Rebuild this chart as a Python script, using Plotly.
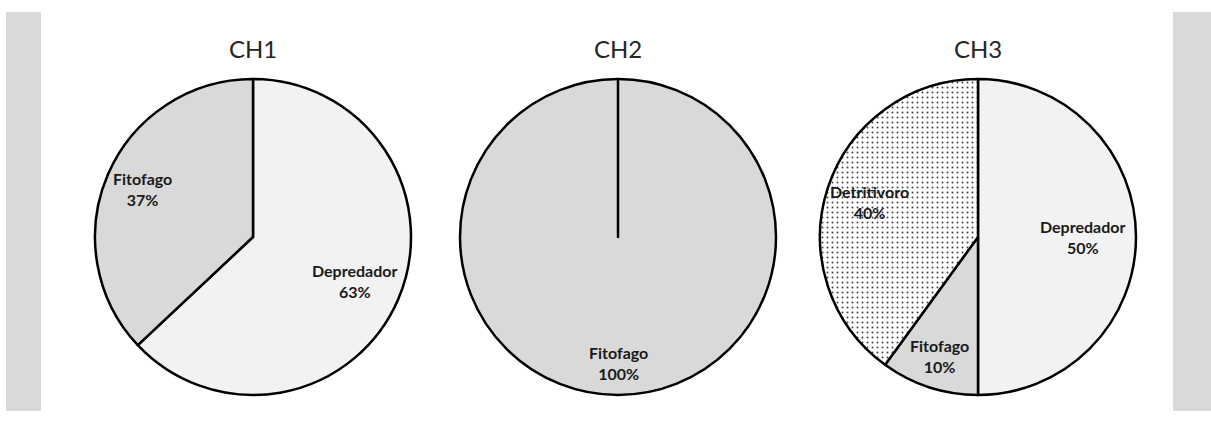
import math
import plotly.graph_objects as go

# Data
titles = ["CH1", "CH2", "CH3"]
ch1_labels = ["Depredador", "Fitofago"]
ch1_values = [63, 37]
ch2_labels = ["Fitofago", "Depredador"]
ch2_values = [100, 0]
ch3_labels = ["Depredador", "Fitofago", "Detritivoro"]
ch3_values = [50, 10, 40]

colors = {"Depredador": "#f2f2f2", "Fitofago": "#d9d9d9", "Detritivoro": "#ffffff"}

# Layout constants (pixels)
W, H = 1211, 423
centers_x = [253, 618, 978]
cy = 237
R = 158
title_y = 48
# radial position of each slice label (fraction of radius)
label_r = [[0.70, 0.76], [0.80, 0.0], [0.66, 0.79, 0.72]]

fig = go.Figure()
annotations = []


def dom(cx):
    return dict(x=[(cx - R) / W, (cx + R) / W], y=[(H - cy - R) / H, (H - cy + R) / H])


def add_pie(labels, values, title, cx, fracs):
    shapes = ["." if l == "Detritivoro" else "" for l in labels]
    fig.add_trace(go.Pie(
        labels=labels, values=values, sort=False, direction="clockwise", rotation=0,
        domain=dom(cx),
        marker=dict(colors=[colors[l] for l in labels],
                    line=dict(color="#000000", width=2.5),
                    pattern=dict(shape=shapes, fgcolor="#444444", bgcolor="#ffffff",
                                 size=5, solidity=0.12)),
        textinfo="none",
        showlegend=False, hoverinfo="label+percent",
    ))
    annotations.append(dict(
        text=title, xref="paper", yref="paper", x=cx / W, y=(H - title_y) / H,
        xanchor="center", yanchor="middle", showarrow=False,
        font=dict(family="Lato", size=24, color="#262626")))
    total = sum(values)
    cum = 0.0
    for lab, v, f in zip(labels, values, fracs):
        if v <= 0:
            continue
        mid = (cum + v / 2.0) / total * 2 * math.pi
        cum += v
        px = cx + f * R * math.sin(mid)
        py = cy - f * R * math.cos(mid)
        pct = round(v / total * 100)
        annotations.append(dict(
            text="<b>%s<br>%d%%</b>" % (lab, pct), xref="paper", yref="paper",
            x=px / W, y=(H - py) / H, xanchor="center", yanchor="middle",
            showarrow=False, align="center",
            font=dict(family="Lato", size=16, color="#1a1a1a")))


add_pie(ch1_labels, ch1_values, titles[0], centers_x[0], label_r[0])
add_pie(ch2_labels, ch2_values, titles[1], centers_x[1], label_r[1])
add_pie(ch3_labels, ch3_values, titles[2], centers_x[2], label_r[2])

gray = "#d9d9d9"
fig.update_layout(
    width=W, height=H, margin=dict(l=0, r=0, t=0, b=0),
    paper_bgcolor="#ffffff", plot_bgcolor="#ffffff",
    annotations=annotations,
    shapes=[
        dict(type="rect", xref="paper", yref="paper", x0=6 / W, x1=41 / W,
             y0=(H - 411) / H, y1=(H - 12) / H, fillcolor=gray, line=dict(width=0), layer="below"),
        dict(type="rect", xref="paper", yref="paper", x0=1173 / W, x1=1.0,
             y0=(H - 411) / H, y1=(H - 12) / H, fillcolor=gray, line=dict(width=0), layer="below"),
    ],
)

fig.write_html("out.html", config={"displayModeBar": False},
               post_script="document.body.style.margin='0';document.body.style.overflow='hidden';")
